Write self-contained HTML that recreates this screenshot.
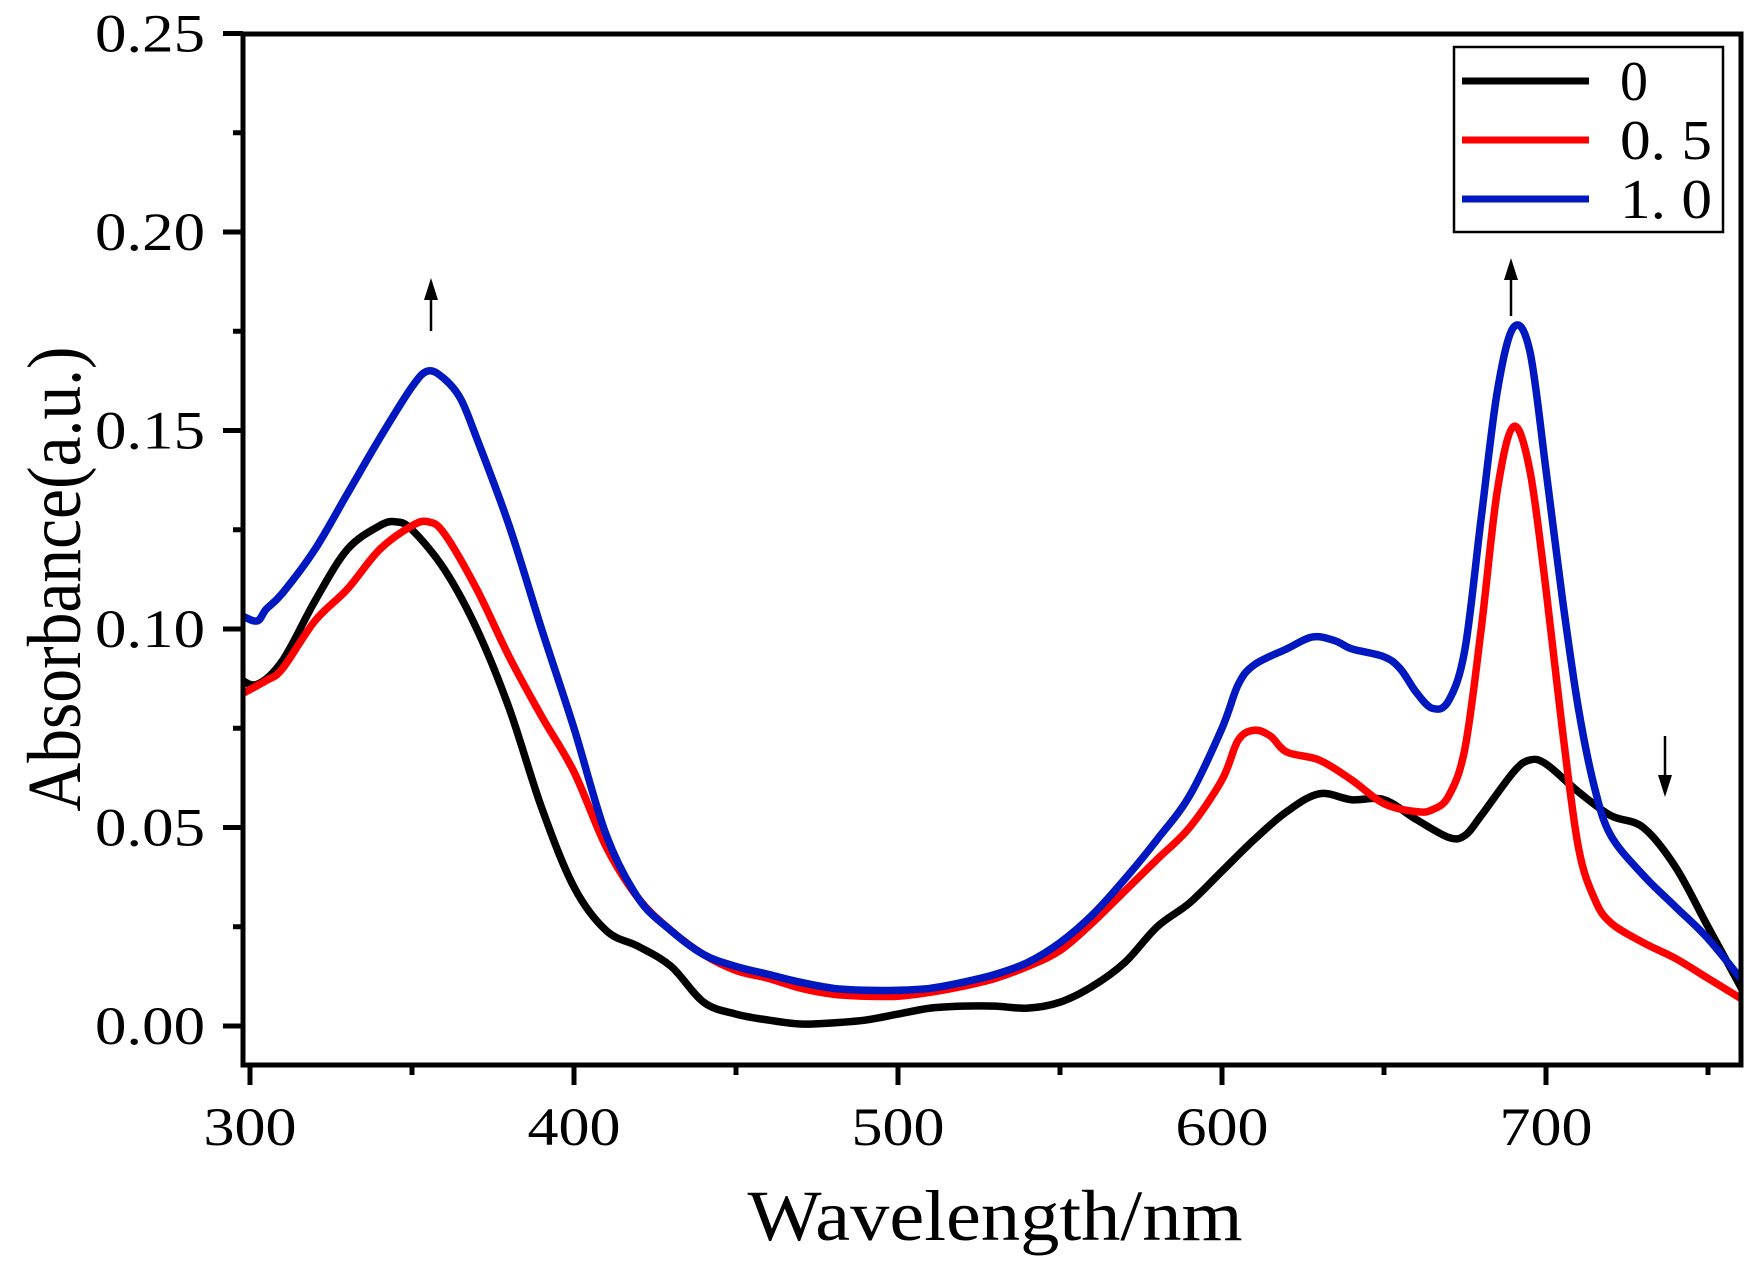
<!DOCTYPE html>
<html><head><meta charset="utf-8"><style>
html,body{margin:0;padding:0;background:#fff;}
svg{display:block;}
text{font-family:"Liberation Serif",serif;fill:#000;}
</style></head><body>
<svg id="s" width="1756" height="1264" viewBox="0 0 1756 1264" xmlns="http://www.w3.org/2000/svg">
<defs><clipPath id="c"><rect x="245" y="36" width="1494" height="1027"/></clipPath></defs>
<g id="curves" clip-path="url(#c)" fill="none" stroke-width="7.5" stroke-linejoin="round" stroke-linecap="round"></g>
<rect x="243" y="34" width="1498" height="1031" fill="none" stroke="#000" stroke-width="5"/>
<g id="ticks" stroke="#000" stroke-width="5"></g>
<g id="labels" font-size="54"></g>
<text transform="translate(80 579) rotate(-90)" font-size="76" text-anchor="middle" textLength="465" lengthAdjust="spacingAndGlyphs">Absorbance(a.u.)</text>
<text x="995" y="1240" font-size="72" text-anchor="middle" textLength="495" lengthAdjust="spacingAndGlyphs">Wavelength/nm</text>
<rect x="1454" y="47" width="269" height="185" fill="#fff" stroke="#000" stroke-width="2.5"/>
<line x1="1462" y1="81" x2="1589" y2="81" stroke="#000" stroke-width="7"/>
<line x1="1462" y1="140" x2="1589" y2="140" stroke="#ff0000" stroke-width="7"/>
<line x1="1462" y1="199" x2="1589" y2="199" stroke="#0018c0" stroke-width="7"/>
<text x="1620" y="100" font-size="56">0</text>
<text x="1620" y="159" font-size="56" textLength="92" lengthAdjust="spacingAndGlyphs">0. 5</text>
<text x="1620" y="218" font-size="56" textLength="92" lengthAdjust="spacingAndGlyphs">1. 0</text>
<g stroke="#000" stroke-width="2.5">
<line x1="431" y1="331" x2="431" y2="295"/>
<line x1="1511" y1="316" x2="1511" y2="275"/>
<line x1="1665" y1="736" x2="1665" y2="780"/>
</g>
<g fill="#000">
<polygon points="431,278 424,300 438,300"/>
<polygon points="1511,258 1504,280 1518,280"/>
<polygon points="1665,797 1658,775 1672,775"/>
</g>
</svg>
<script>
var X=function(n){return 250+(n-300)*3.24;},Y=function(a){return 1026-a*3970;};
var B=[[296,0.088],[302,0.086],[310,0.092],[320,0.107],[330,0.12],[340,0.126],[345,0.127],[350,0.125],[360,0.115],[370,0.1],[380,0.08],[390,0.055],[400,0.035],[410,0.024],[420,0.02],[430,0.015],[440,0.006],[450,0.003],[460,0.0015],[470,0.0005],[480,0.0008],[490,0.0015],[500,0.003],[510,0.0045],[520,0.005],[530,0.005],[540,0.0045],[550,0.006],[560,0.01],[570,0.016],[580,0.025],[590,0.031],[600,0.039],[610,0.047],[620,0.054],[630,0.0585],[640,0.057],[650,0.057],[660,0.052],[670,0.0475],[675,0.048],[680,0.053],[690,0.064],[695,0.067],[700,0.066],[710,0.059],[720,0.053],[730,0.05],[740,0.04],[750,0.025],[762,0.007]];
var R=[[296,0.083],[305,0.087],[310,0.09],[320,0.102],[330,0.11],[340,0.12],[350,0.126],[355,0.127],[360,0.124],[370,0.11],[380,0.093],[390,0.078],[400,0.064],[410,0.045],[420,0.032],[430,0.024],[440,0.018],[450,0.014],[460,0.012],[470,0.0095],[480,0.008],[490,0.0075],[500,0.0075],[510,0.0085],[520,0.01],[530,0.012],[540,0.015],[550,0.019],[560,0.026],[570,0.034],[580,0.042],[590,0.05],[600,0.062],[605,0.072],[610,0.0745],[615,0.073],[620,0.069],[630,0.067],[640,0.062],[650,0.056],[660,0.054],[665,0.0545],[670,0.058],[675,0.07],[680,0.1],[685,0.135],[690,0.151],[695,0.14],[700,0.11],[705,0.075],[710,0.045],[715,0.032],[720,0.026],[730,0.021],[740,0.017],[750,0.012],[762,0.006]];
var U=[[296,0.104],[302,0.102],[305,0.105],[310,0.109],[320,0.12],[330,0.134],[340,0.148],[350,0.161],[355,0.165],[360,0.163],[365,0.158],[370,0.148],[380,0.126],[390,0.1],[400,0.075],[410,0.048],[420,0.032],[430,0.024],[440,0.018],[450,0.015],[460,0.013],[470,0.011],[480,0.0095],[490,0.009],[500,0.009],[510,0.0095],[520,0.011],[530,0.013],[540,0.016],[550,0.021],[560,0.028],[570,0.037],[580,0.047],[590,0.058],[600,0.075],[605,0.086],[610,0.091],[620,0.095],[628,0.098],[635,0.097],[640,0.095],[650,0.093],[655,0.09],[660,0.084],[665,0.08],[670,0.082],[675,0.095],[680,0.128],[685,0.16],[690,0.176],[695,0.17],[700,0.14],[705,0.108],[710,0.08],[715,0.06],[720,0.048],[730,0.038],[740,0.03],[750,0.022],[762,0.01]];
function path(d){var p=d.map(function(q){return [X(q[0]),Y(q[1])];});var s="M"+p[0][0]+","+p[0][1];
for(var i=0;i<p.length-1;i++){var a=p[i-1]||p[i],b=p[i],c=p[i+1],e=p[i+2]||c;
s+=" C"+(b[0]+(c[0]-a[0])/6)+","+(b[1]+(c[1]-a[1])/6)+" "+(c[0]-(e[0]-b[0])/6)+","+(c[1]-(e[1]-b[1])/6)+" "+c[0]+","+c[1];}return s;}
var g=document.getElementById("curves"),ns="http://www.w3.org/2000/svg";
[[B,"#000"],[R,"#ff0000"],[U,"#0018c0"]].forEach(function(z){var e=document.createElementNS(ns,"path");e.setAttribute("d",path(z[0]));e.setAttribute("stroke",z[1]);g.appendChild(e);});
var t=document.getElementById("ticks"),L=document.getElementById("labels");
function ln(x1,y1,x2,y2){var e=document.createElementNS(ns,"line");e.setAttribute("x1",x1);e.setAttribute("y1",y1);e.setAttribute("x2",x2);e.setAttribute("y2",y2);t.appendChild(e);}
function tx(x,y,s,a,w){var e=document.createElementNS(ns,"text");e.setAttribute("x",x);e.setAttribute("y",y);e.setAttribute("text-anchor",a);e.setAttribute("textLength",w);e.setAttribute("lengthAdjust","spacingAndGlyphs");e.textContent=s;L.appendChild(e);}
for(var n=300;n<=750;n+=50){var x=X(n);if(n%100==0){ln(x,1065,x,1085);tx(x,1145,n,"middle",93);}else ln(x,1065,x,1075);}
for(var k=0;k<=10;k++){var a=k*0.025,y=Y(a);if(k%2==0){ln(243,y,223,y);tx(205,y+18,a.toFixed(2),"end",110);}else ln(243,y,233,y);}
</script>
</body></html>
